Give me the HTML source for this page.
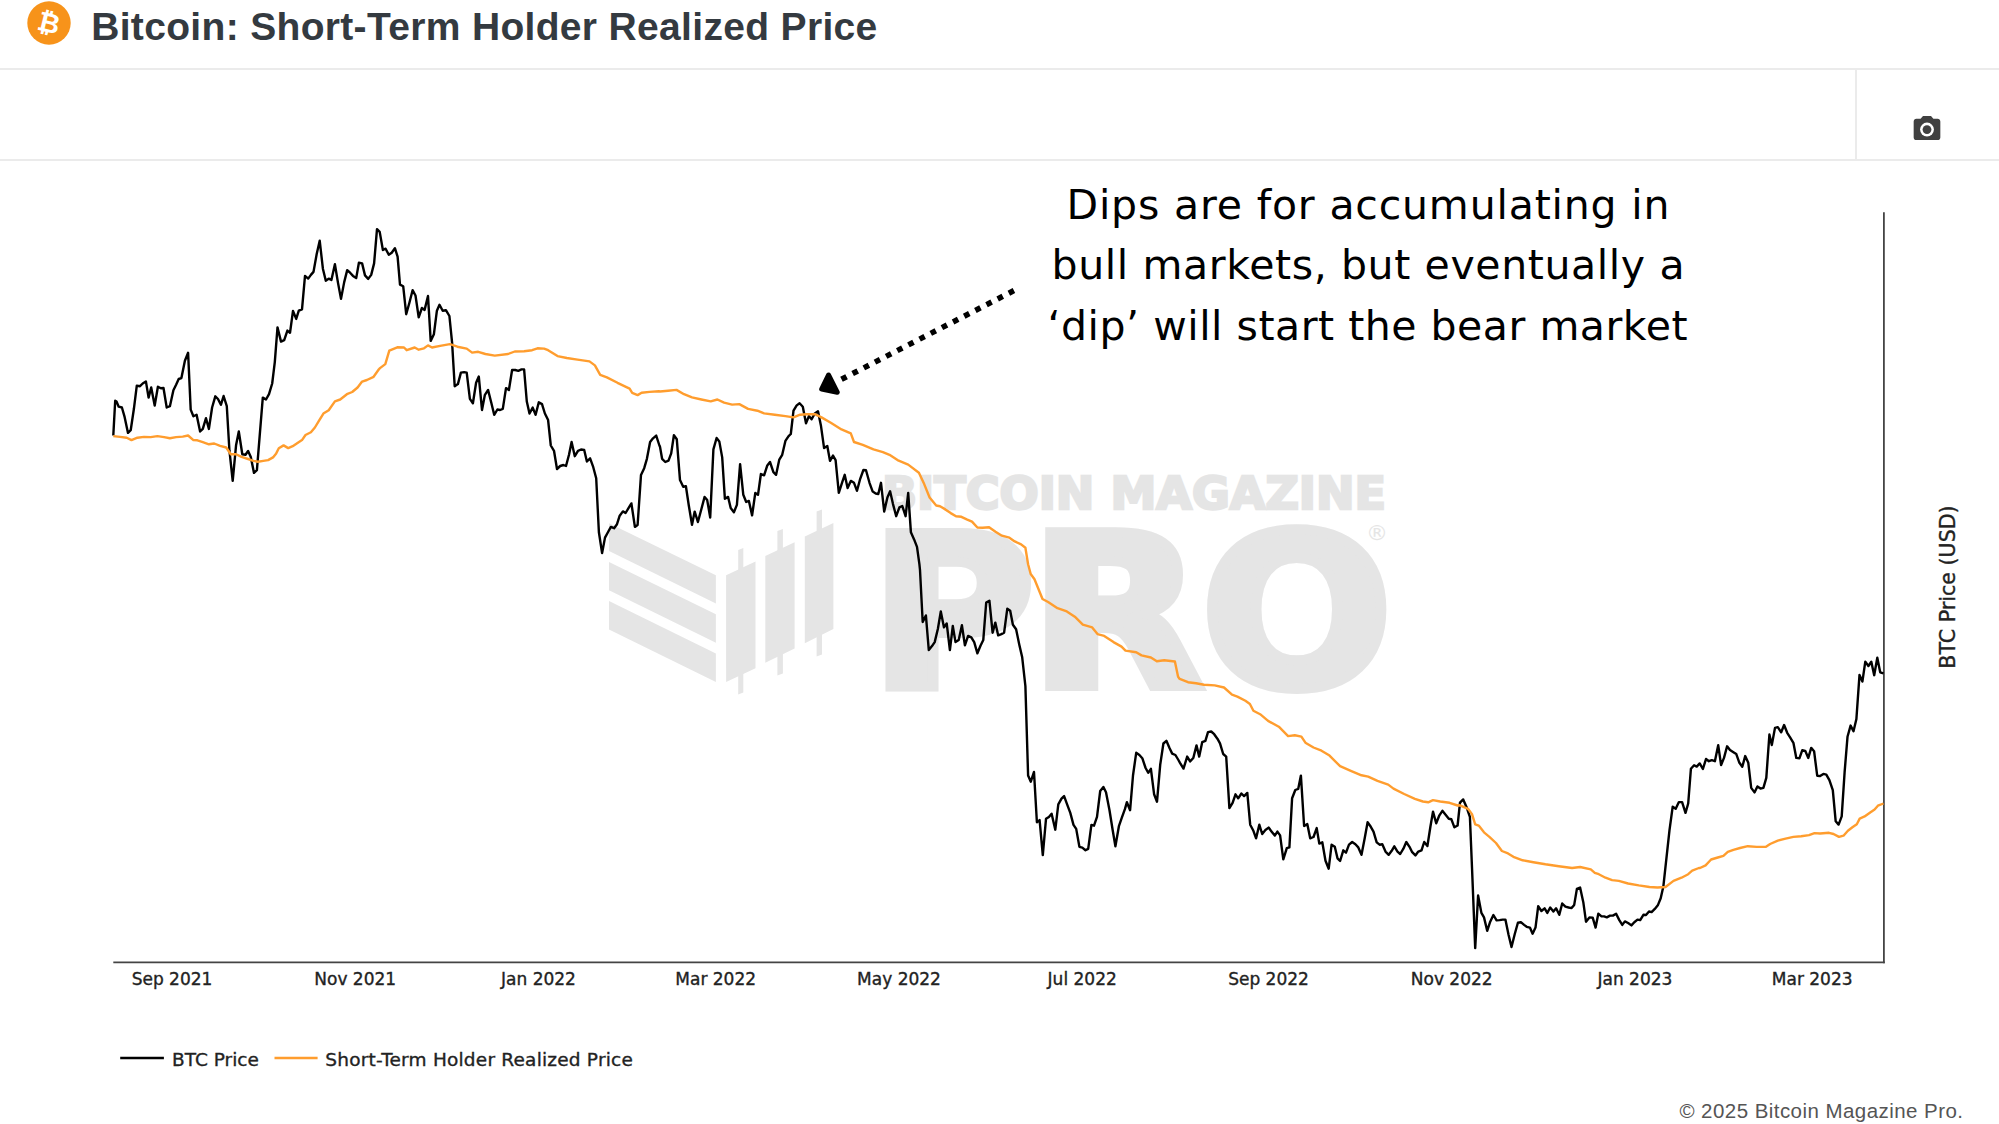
<!DOCTYPE html>
<html lang="en">
<head>
<meta charset="utf-8">
<title>Bitcoin: Short-Term Holder Realized Price</title>
<style>
html,body{margin:0;padding:0;background:#fff;}
body{width:1999px;height:1124px;position:relative;overflow:hidden;font-family:"Liberation Sans",sans-serif;}
.header{position:absolute;left:0;top:0;width:1999px;height:69px;}
.header h1{position:absolute;left:91.2px;top:3.8px;margin:0;font-size:39px;line-height:46px;font-weight:bold;color:#343a40;letter-spacing:0.33px;white-space:nowrap;}
.btc{position:absolute;left:26.8px;top:1.4px;width:44px;height:44px;}
.hr1{position:absolute;left:0;top:68.4px;width:1999px;height:1.8px;background:#ebebeb;}
.hr2{position:absolute;left:0;top:159px;width:1999px;height:1.8px;background:#ebebeb;}
.vr{position:absolute;left:1855px;top:69px;width:2px;height:91px;background:#ebebeb;}
.cam{position:absolute;left:1911px;top:113px;width:32px;height:32px;}
.footer{position:absolute;right:35.5px;top:1099.3px;font-size:20.5px;line-height:24px;color:#555;letter-spacing:0.45px;white-space:nowrap;}
svg.chart{position:absolute;left:0;top:0;}
.tick text, text.lg{font-family:"DejaVu Sans","Liberation Sans",sans-serif;fill:#222;stroke:#222;stroke-width:0.35px;}
</style>
</head>
<body>
<div class="header">
<svg class="btc" viewBox="0 0 44 44"><circle cx="22" cy="22" r="21.7" fill="#f7931a"/>
<text x="22" y="31.3" text-anchor="middle" font-family="Liberation Sans, DejaVu Sans, sans-serif" font-weight="bold" font-size="27" fill="#fff" transform="rotate(14 22 22)">₿</text></svg>
<h1>Bitcoin: Short-Term Holder Realized Price</h1>
</div>
<div class="hr1"></div><div class="hr2"></div><div class="vr"></div>
<svg class="cam" viewBox="0 0 24 24"><path fill="#404040" d="M9 2.3 7.2 4.3H4c-1.1 0-2 .9-2 2v12c0 1.1.9 2 2 2h16c1.100 0 2-.9 2-2v-12c0-1.100-.9-2-2-2h-3.200L15 2.300H9z"/><circle cx="12" cy="12.400" r="5.2" fill="#fff"/><circle cx="12" cy="12.400" r="3.300" fill="#404040"/></svg>

<svg class="chart" width="1999" height="1124" viewBox="0 0 1999 1124">
<!-- watermark -->
<g fill="#e5e5e5">
<polygon points="609,523.3 715.9,575.2 715.9,603.6 609,551.1"/>
<polygon points="609,562.1 715.9,614.3 715.9,642.7 609,590.3"/>
<polygon points="609,601 715.9,653.5 715.9,681.9 609,629.4"/>
<polygon points="726.1,575.2 755.5,561.5 755.5,668.2 726.1,681.9"/>
<polygon points="738.2,550 743.3,548 743.3,692.500 738.2,694.500"/>
<polygon points="765.3,556 794.6,542.3 794.6,648.6 765.3,662.7"/>
<polygon points="777.4,531 782.9,529 782.9,673.500 777.4,675.500"/>
<polygon points="804.8,536.6 833.4,522.9 833.4,629 804.8,643.3"/>
<polygon points="816.6,511.500 822,509.500 822,654.500 816.600,656.500"/>
<text x="882" y="508.7" font-family="DejaVu Sans, Liberation Sans, sans-serif" font-weight="bold" font-size="43.6" textLength="504" lengthAdjust="spacingAndGlyphs" stroke="#e5e5e5" stroke-width="2.5">BITCOIN MAGAZINE</text>
<text transform="scale(1.07 1)" x="813.3 962.6 1122.6" y="685.8" font-family="DejaVu Sans, Liberation Sans, sans-serif" font-weight="bold" font-size="210" stroke="#e5e5e5" stroke-width="10">PRO</text>
<text x="1366" y="540" font-family="DejaVu Sans, Liberation Sans, sans-serif" font-size="22">®</text>
</g>
<!-- axes -->
<line x1="113.3" y1="962.4" x2="1884.800" y2="962.4" stroke="#444" stroke-width="1.8"/>
<line x1="1883.9" y1="212.2" x2="1883.9" y2="963.300" stroke="#444" stroke-width="1.8"/>
<!-- series -->
<polyline fill="none" stroke="#000" stroke-width="2.4" stroke-linejoin="round" stroke-linecap="butt" points="113.3,435.5 115.2,400.8 116.5,401.6 118.7,406.7 121.9,407.5 124.6,416.9 128.0,432.9 130.7,430.2 133.9,408.8 136.8,385.6 140.0,386.2 142.7,383.5 145.9,381.4 148.6,397.6 151.2,387.5 154.7,405.6 157.9,386.7 160.9,388.3 163.5,388.0 166.7,407.5 169.9,406.2 173.4,390.2 176.1,384.8 178.7,379.0 181.4,378.1 184.9,360.8 188.1,352.8 190.7,409.6 193.4,416.3 196.6,414.7 200.1,431.5 202.8,428.9 206.0,418.2 208.9,428.9 212.1,407.5 215.3,396.3 218.0,399.0 220.9,404.8 223.6,396.0 226.8,406.2 229.4,450.2 232.7,480.9 236.1,444.9 238.8,431.5 242.3,454.2 245.5,454.8 248.1,451.0 250.8,456.9 254.0,472.9 256.9,470.2 259.6,436.9 262.8,397.6 266.0,399.5 269.0,394.2 272.2,383.5 274.8,362.1 277.5,327.4 281.0,341.6 284.2,340.2 287.4,330.6 290.0,332.8 293.0,310.9 296.2,318.9 298.8,310.6 302.0,309.3 305.0,275.9 308.2,278.6 310.9,274.9 313.5,271.9 316.7,254.0 319.7,240.7 322.9,268.7 325.8,280.7 328.7,278.6 331.4,279.9 334.9,264.2 338.1,283.4 341.0,298.9 344.2,282.1 347.2,270.1 350.1,272.7 353.0,275.9 356.2,278.1 358.9,262.8 362.1,263.4 365.0,275.4 368.2,278.9 371.2,274.9 374.1,263.4 377.0,229.2 379.7,231.9 382.9,250.0 385.6,248.7 388.8,254.8 391.7,252.7 394.9,248.2 397.6,256.7 400.0,284.6 403.2,286.2 406.2,314.2 409.4,302.7 412.6,290.2 415.5,295.5 418.7,317.4 421.9,308.0 424.6,309.9 428.0,296.0 430.7,340.9 433.9,334.2 436.9,310.7 439.5,304.8 442.7,310.7 445.9,310.2 449.4,316.0 452.1,342.7 454.7,386.2 457.9,384.1 460.9,372.6 464.1,372.1 466.7,372.6 469.9,398.8 472.9,403.3 476.1,382.8 478.8,376.6 482.0,410.0 484.9,394.8 488.1,390.0 491.3,402.8 494.2,414.8 497.4,409.5 500.1,410.0 502.8,408.9 506.0,388.1 508.9,390.0 512.1,370.0 515.3,370.0 518.3,370.8 521.5,369.4 524.1,369.4 526.8,401.5 529.5,413.5 532.7,407.6 535.6,414.8 538.8,402.3 542.0,404.1 544.9,413.5 548.1,420.1 550.8,445.5 554.0,450.8 557.0,469.0 560.2,466.0 563.4,465.0 566.0,466.0 569.0,454.8 571.6,442.0 574.8,456.2 578.0,450.8 581.0,449.5 584.2,450.0 586.9,461.5 590.1,458.3 593.0,466.3 596.2,478.3 598.9,532.2 602.1,553.1 605.0,537.6 608.2,531.7 610.9,526.9 614.1,528.2 617.0,524.2 619.7,515.7 622.9,511.4 625.6,513.0 628.8,507.7 631.4,503.4 634.9,526.9 637.6,525.0 641.0,474.9 644.2,468.2 646.9,458.8 650.1,442.0 653.0,438.3 656.2,435.6 659.4,445.5 660.0,446.8 662.1,458.8 665.3,462.0 668.5,460.6 671.2,453.4 673.9,435.3 676.8,439.3 680.0,480.1 683.2,486.8 685.9,486.3 688.8,505.5 692.0,524.7 694.7,511.6 697.9,522.0 701.4,509.0 704.6,496.9 707.2,500.1 710.2,517.5 713.4,449.4 716.6,438.0 719.3,441.4 722.2,457.4 724.9,498.8 728.1,496.9 730.7,508.1 733.9,512.2 736.9,504.9 740.1,464.1 743.3,494.8 746.2,502.0 748.9,500.9 752.1,515.4 755.3,492.9 758.0,494.8 760.9,474.0 764.1,475.3 767.3,465.4 770.0,462.0 773.4,472.1 776.1,474.8 779.3,459.6 782.2,454.8 785.4,440.9 788.6,436.1 790.8,434.0 793.5,410.7 796.7,405.4 799.6,403.3 802.8,406.7 806.0,423.3 808.9,416.1 811.6,419.3 814.8,413.4 818.0,411.3 820.9,425.4 824.1,448.1 827.3,446.0 830.0,460.9 833.0,455.6 835.6,460.1 838.8,492.9 842.0,482.8 844.7,474.8 847.6,488.1 850.8,480.9 854.0,482.8 857.0,490.8 860.2,478.8 863.4,470.0 866.0,470.2 869.5,482.8 872.7,491.6 875.7,493.5 878.3,494.0 881.0,482.8 884.2,511.6 887.4,497.5 890.1,491.3 893.0,504.1 896.2,516.2 899.4,507.3 902.3,506.0 905.6,516.2 908.2,492.9 910.9,532.2 914.1,539.4 917.0,546.9 919.4,564.2 920.0,570.0 922.7,622.0 925.9,615.4 928.8,650.1 932.0,646.1 934.7,642.1 937.9,628.7 940.8,611.4 944.0,627.4 946.7,623.4 949.9,650.1 952.8,626.0 955.5,642.1 958.7,639.9 961.9,625.2 964.9,645.3 968.1,635.9 971.3,637.3 974.2,642.1 977.4,653.3 980.6,645.5 983.3,639.9 986.2,602.6 989.4,600.7 992.6,632.7 995.3,622.6 998.2,635.4 1001.4,634.1 1004.1,632.7 1007.3,608.7 1010.2,610.8 1012.9,624.7 1016.1,629.3 1019.3,644.7 1022.2,657.3 1025.4,686.1 1028.1,775.5 1030.8,781.7 1034.0,772.0 1036.9,822.2 1039.6,820.1 1042.8,855.1 1046.0,818.8 1048.9,816.9 1051.6,813.7 1055.3,829.7 1058.3,804.3 1061.5,798.7 1064.1,796.1 1067.3,804.9 1070.3,812.9 1073.5,824.9 1076.2,828.9 1079.4,846.8 1082.3,847.6 1085.5,850.2 1088.2,848.9 1091.4,824.9 1094.0,825.7 1097.0,816.9 1100.2,791.0 1103.4,787.0 1106.0,792.3 1109.5,810.2 1112.7,830.2 1115.4,846.2 1118.9,826.2 1122.1,816.9 1125.0,808.9 1126.9,802.2 1130.1,810.2 1133.0,775.5 1136.2,752.8 1139.4,755.0 1142.3,758.2 1145.6,768.0 1148.2,772.8 1150.9,768.8 1154.1,794.2 1157.0,801.7 1160.2,764.8 1163.4,743.5 1166.4,740.8 1169.6,748.3 1172.2,753.6 1175.4,755.0 1178.4,760.0 1180.0,762.8 1183.5,768.6 1187.2,756.6 1190.1,761.4 1193.3,758.0 1196.5,745.4 1199.2,756.6 1202.2,742.2 1205.4,740.9 1208.0,732.1 1211.2,731.5 1214.2,734.2 1217.4,738.7 1220.0,743.3 1223.2,754.0 1226.2,756.6 1229.4,808.1 1232.6,802.8 1235.5,794.3 1238.2,798.3 1241.4,793.5 1244.1,796.1 1247.3,792.9 1250.2,824.7 1253.4,830.8 1256.1,838.3 1259.3,824.7 1262.2,834.0 1265.4,830.0 1268.6,827.6 1271.5,831.4 1274.8,835.6 1277.4,831.6 1280.1,835.4 1283.3,859.4 1286.8,848.2 1289.4,847.4 1292.1,798.3 1295.3,790.0 1298.2,788.9 1300.9,775.6 1304.1,826.0 1307.3,824.1 1310.2,838.3 1313.5,837.0 1316.7,828.1 1319.3,843.6 1322.3,842.3 1325.5,860.7 1328.7,868.7 1331.6,844.7 1334.8,846.8 1337.5,858.3 1340.1,861.0 1343.3,850.3 1346.0,852.7 1349.0,844.7 1352.2,842.0 1355.4,844.2 1358.3,847.4 1361.5,854.8 1364.7,838.3 1367.6,822.3 1370.8,826.8 1373.5,831.6 1376.7,842.3 1379.6,844.7 1382.3,844.2 1385.5,851.6 1388.7,854.8 1391.7,850.8 1394.3,846.3 1397.5,851.6 1400.2,854.0 1403.4,848.7 1406.3,842.0 1409.5,846.8 1412.2,852.2 1415.4,855.4 1418.3,851.6 1421.5,850.3 1424.2,842.0 1427.4,846.0 1430.4,826.8 1433.0,811.6 1436.2,823.3 1439.4,815.3 1442.4,810.8 1445.6,814.8 1448.8,818.8 1451.4,819.3 1454.4,827.3 1457.6,825.5 1460.0,802.7 1463.2,799.4 1466.7,807.5 1469.9,816.8 1472.0,867.5 1475.2,948.1 1478.1,895.5 1481.4,912.9 1484.0,917.4 1487.2,930.8 1490.2,921.7 1493.4,915.0 1496.6,920.4 1499.5,920.1 1502.7,919.6 1505.4,919.6 1508.6,935.0 1511.5,947.0 1514.7,934.2 1517.9,922.8 1520.9,922.2 1524.1,924.9 1526.7,926.8 1529.9,927.6 1532.6,933.7 1535.5,927.6 1538.2,906.2 1541.4,911.0 1544.6,908.3 1547.3,912.9 1550.2,907.5 1553.4,911.5 1556.1,908.3 1559.3,914.8 1562.2,903.5 1565.4,906.7 1568.6,907.5 1571.6,908.1 1574.2,904.9 1576.9,888.9 1580.1,887.5 1583.3,902.2 1586.0,921.7 1589.4,917.4 1592.7,917.7 1595.6,927.6 1598.3,913.7 1601.5,916.4 1604.1,916.4 1606.8,917.4 1610.0,915.6 1612.9,915.6 1616.1,913.7 1619.3,920.1 1622.3,924.9 1624.9,921.4 1628.1,923.0 1631.4,925.4 1634.3,922.2 1637.5,919.6 1640.2,920.1 1643.4,914.8 1646.0,915.0 1649.0,911.5 1651.6,912.1 1654.8,908.9 1658.0,904.9 1660.7,898.2 1663.4,886.2 1666.0,862.2 1669.5,830.1 1672.7,806.7 1675.7,808.8 1678.9,802.1 1682.1,802.1 1685.5,812.8 1688.2,803.5 1690.9,768.8 1694.1,765.3 1696.7,766.6 1699.7,763.4 1702.9,769.0 1706.0,759.0 1708.9,761.2 1711.8,760.1 1714.9,761.2 1718.2,745.2 1721.1,765.0 1724.0,757.9 1727.1,746.3 1730.0,750.1 1733.4,752.3 1736.3,754.1 1739.4,762.8 1742.3,766.8 1745.2,756.1 1748.3,762.8 1751.2,787.9 1754.5,792.4 1757.4,786.4 1760.5,788.6 1763.4,787.9 1766.3,777.9 1769.4,734.5 1771.8,745.0 1775.0,727.9 1777.8,727.2 1781.2,732.3 1784.1,725.0 1787.2,732.8 1790.1,737.4 1793.4,742.8 1796.3,757.9 1799.4,758.3 1802.3,750.1 1805.2,750.8 1808.3,757.9 1811.2,747.9 1814.1,751.2 1817.2,775.7 1820.1,776.1 1823.4,773.9 1826.3,774.6 1829.4,780.1 1832.8,790.1 1835.7,821.3 1838.6,824.6 1841.7,816.4 1844.6,772.3 1847.5,736.8 1850.6,725.6 1853.5,731.2 1856.4,719.0 1859.5,674.9 1862.4,681.6 1865.3,661.6 1868.4,666.0 1871.3,661.8 1874.2,675.2 1877.3,657.8 1880.2,672.3 1883.5,673.4"/>
<polyline fill="none" stroke="#ff9d2e" stroke-width="2.4" stroke-linejoin="round" stroke-linecap="butt" points="113.3,436.1 120.0,436.9 126.7,437.7 131.5,440.1 137.4,437.7 144.0,436.9 150.7,437.1 157.4,436.1 164.1,437.1 169.9,438.2 176.1,437.1 182.7,436.6 188.1,435.5 193.4,440.1 197.4,440.3 202.8,442.2 208.9,444.3 214.2,443.5 220.1,445.9 226.2,447.5 230.8,454.2 236.1,454.2 241.5,456.9 248.1,459.0 253.5,460.9 258.0,461.7 263.3,460.9 268.1,460.1 273.0,457.4 276.2,453.4 278.8,448.3 283.6,445.4 288.2,448.1 292.7,446.2 297.5,443.0 302.0,440.1 305.5,435.0 310.9,432.3 314.9,427.5 318.9,420.9 323.4,413.6 328.7,410.2 334.9,401.4 340.2,399.5 346.9,394.2 352.2,392.0 357.6,387.5 362.1,381.6 366.9,380.0 373.6,376.8 378.9,369.3 380.0,368.1 385.3,364.1 389.3,350.7 397.3,347.3 404.0,347.5 406.7,350.2 414.7,347.5 418.7,349.7 424.0,348.3 428.0,345.4 432.0,347.5 440.1,345.9 449.9,344.1 457.4,346.7 466.7,348.6 472.1,352.6 478.2,351.8 485.4,354.0 494.8,355.6 508.1,354.0 514.8,351.5 524.1,351.3 532.1,350.2 537.5,348.3 544.1,348.6 548.1,350.2 557.5,356.1 566.8,358.0 577.5,359.6 589.5,361.4 594.9,365.4 600.2,374.8 606.9,377.4 617.5,382.8 629.6,388.6 632.2,392.9 637.6,395.1 641.6,392.7 649.6,391.9 658.9,391.3 660.0,391.5 668.0,390.7 676.5,389.9 684.0,394.2 692.0,397.4 701.4,399.5 710.7,401.4 717.4,399.5 724.1,402.7 732.1,404.6 739.3,404.1 748.1,408.9 757.4,410.7 764.1,413.4 774.8,414.7 785.4,416.1 793.5,417.4 800.1,414.7 806.8,414.2 814.8,414.2 821.5,417.4 830.8,422.7 841.5,429.4 850.8,433.4 854.0,442.0 862.8,444.9 873.5,449.4 882.9,452.1 889.5,454.8 897.5,460.1 908.2,464.6 918.9,472.7 924.2,484.1 929.6,497.5 936.2,505.5 940.0,506.2 945.3,509.4 950.7,513.1 956.0,516.3 961.4,516.8 966.7,519.3 972.0,521.6 977.4,527.5 982.7,527.8 989.1,527.2 995.5,531.8 1001.9,535.7 1009.4,537.7 1014.7,541.4 1021.1,544.4 1025.4,547.8 1028.1,564.3 1030.7,574.0 1034.5,579.3 1042.5,599.0 1048.1,602.0 1057.5,608.2 1066.8,611.4 1074.8,616.7 1082.8,624.7 1092.2,627.4 1097.5,634.1 1104.2,635.9 1113.5,642.1 1121.5,646.6 1125.5,650.6 1136.2,652.2 1141.5,655.4 1150.9,657.5 1156.8,661.3 1164.2,660.2 1174.9,661.5 1178.1,676.8 1179.7,678.9 1188.0,682.2 1196.0,683.2 1204.0,684.8 1214.7,685.4 1224.0,687.5 1232.0,694.7 1237.4,696.6 1245.4,700.8 1249.9,704.0 1253.4,710.7 1260.1,714.2 1268.1,720.9 1278.8,726.7 1288.1,736.1 1294.8,735.3 1301.4,736.6 1305.4,742.7 1313.5,747.5 1321.5,750.7 1329.5,755.6 1340.1,766.2 1350.8,770.8 1361.5,775.3 1368.2,776.6 1377.5,780.9 1388.2,784.6 1393.5,788.6 1404.2,794.0 1414.9,798.8 1422.9,801.5 1428.2,802.3 1433.0,800.1 1440.2,801.5 1449.6,802.8 1457.6,805.5 1460.0,805.3 1468.0,808.8 1472.0,814.1 1475.2,824.3 1478.7,825.6 1484.0,832.3 1489.4,836.8 1496.0,843.0 1501.9,851.0 1508.0,853.4 1513.4,856.8 1522.7,860.3 1533.4,862.2 1545.4,864.3 1558.8,866.2 1572.1,868.0 1580.1,867.0 1590.8,869.4 1594.8,872.8 1598.8,874.2 1605.5,877.7 1612.1,880.1 1618.8,880.9 1628.1,883.5 1638.8,885.4 1649.5,887.0 1657.5,887.5 1665.5,887.0 1673.5,880.9 1681.5,877.7 1688.2,874.2 1692.2,870.7 1698.9,868.0 1700.0,868.0 1705.6,865.3 1711.1,859.5 1717.8,857.5 1723.4,855.8 1727.8,851.8 1733.4,849.8 1740.0,848.0 1747.8,846.2 1756.7,846.9 1765.6,846.9 1770.1,844.0 1777.8,840.6 1785.6,838.6 1793.4,836.9 1801.2,836.2 1809.0,835.1 1814.5,833.1 1820.1,833.5 1829.0,832.8 1833.5,834.0 1839.0,836.9 1843.5,835.7 1847.9,830.8 1852.4,827.3 1856.8,824.2 1859.7,818.6 1864.6,816.4 1870.2,812.4 1874.6,809.5 1877.9,805.7 1883.5,803.5"/>
<!-- arrow -->
<line x1="841.5" y1="379.36" x2="1014" y2="290.500" stroke="#000" stroke-width="5.6" stroke-dasharray="5.7 6.85"/>
<polygon points="828.5,375 821.7,389 837.300,392.300" fill="#000" stroke="#000" stroke-width="5" stroke-linejoin="round"/>
<!-- annotation -->
<g font-family="DejaVu Sans, Liberation Sans, sans-serif" font-size="41" fill="#000" text-anchor="middle">
<text x="1368" y="219.3" textLength="603" lengthAdjust="spacing">Dips are for accumulating in</text>
<text x="1368" y="279.3" textLength="633" lengthAdjust="spacing">bull markets, but eventually a</text>
<text x="1367.5" y="340.1" textLength="640" lengthAdjust="spacing">‘dip’ will start the bear market</text>
</g>
<!-- ticks -->
<g class="tick" font-size="17">
<text x="172.0" y="985" text-anchor="middle">Sep 2021</text>
<text x="355.2" y="985" text-anchor="middle">Nov 2021</text>
<text x="538.5" y="985" text-anchor="middle">Jan 2022</text>
<text x="715.7" y="985" text-anchor="middle">Mar 2022</text>
<text x="899.0" y="985" text-anchor="middle">May 2022</text>
<text x="1082.2" y="985" text-anchor="middle">Jul 2022</text>
<text x="1268.5" y="985" text-anchor="middle">Sep 2022</text>
<text x="1451.7" y="985" text-anchor="middle">Nov 2022</text>
<text x="1634.9" y="985" text-anchor="middle">Jan 2023</text>
<text x="1812.2" y="985" text-anchor="middle">Mar 2023</text>
</g>
<text class="lg" font-size="20.6" text-anchor="middle" transform="translate(1954.8 587) rotate(-90)">BTC Price (USD)</text>
<!-- legend -->
<line x1="120.2" y1="1058" x2="163.9" y2="1058" stroke="#000" stroke-width="2.4"/>
<text class="lg" x="172" y="1065.7" font-size="18.5">BTC Price</text>
<line x1="274.5" y1="1058" x2="317.6" y2="1058" stroke="#ff9d2e" stroke-width="2.4"/>
<text class="lg" x="325.3" y="1065.7" font-size="18.5" textLength="307.5" lengthAdjust="spacing">Short-Term Holder Realized Price</text>
</svg>
<div class="footer">© 2025 Bitcoin Magazine Pro.</div>
</body>
</html>
